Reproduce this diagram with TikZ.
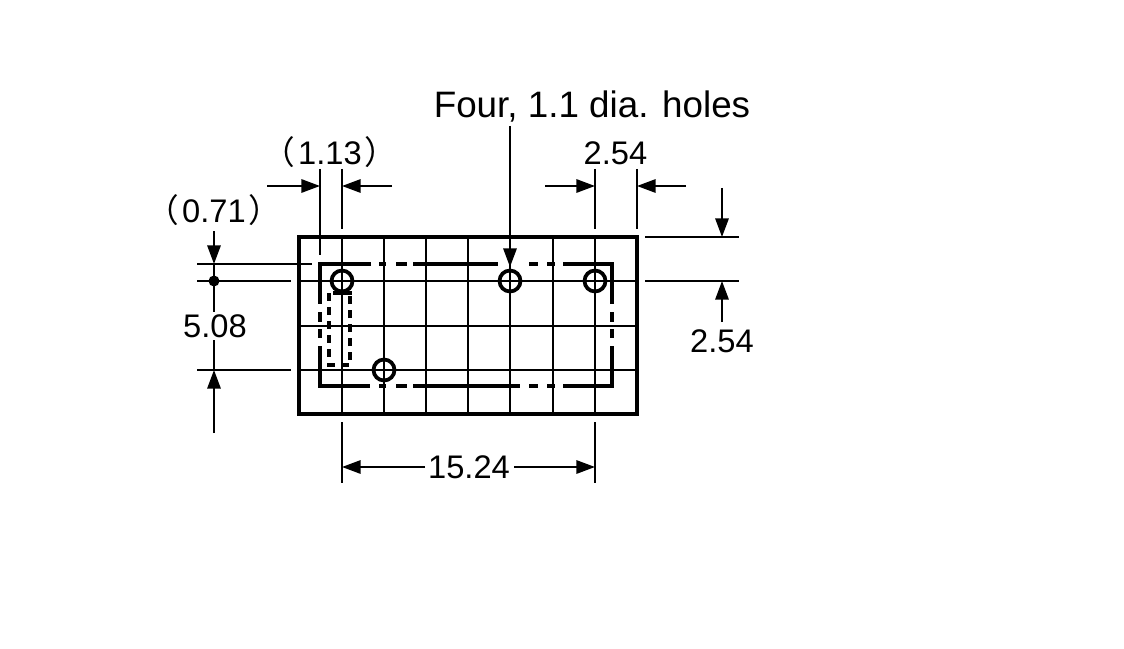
\documentclass[tikz,border=0pt]{standalone}
\usepackage{fontspec}
\setmainfont{Liberation Sans}
\newfontfamily\cjkparen{Noto Sans CJK JP}
\usetikzlibrary{arrows.meta}
\tikzset{
  thinline/.style={line width=1.6pt},
  outline/.style={line width=3.2pt},
  relayline/.style={line width=2.4pt},
  pinhole/.style={line width=2.8pt},
  dimarrow/.style={thinline,-{Triangle[length=14pt,width=10pt]}},
  dimtext/.style={anchor=base,inner sep=0pt,font=\fontsize{24.5}{25}\selectfont},
}
\newcommand{\lparen}{{\cjkparen （}\hspace{2pt}}
\newcommand{\rparen}{\hspace{2pt}{\cjkparen ）}}
\begin{document}
\begin{tikzpicture}[x=0.75pt,y=-0.75pt]
  \useasboundingbox[fill=white] (0,0) rectangle (1124,649);
  % grid
  \foreach \gx in {342,384,426,468,510,553,595}
    \draw[thinline] (\gx,237) -- (\gx,414);
  \foreach \gy in {281,326,370}
    \draw[thinline] (299,\gy) -- (637,\gy);
  \draw[outline] (299,237) rectangle (637,414);
  % relay outline
  \draw[relayline] (371,264) -- (320,264) -- (320,304);
  \draw[relayline] (320,346) -- (320,386) -- (370,386);
  \draw[relayline] (413,264) -- (498,264);
  \draw[relayline] (413,386) -- (520,386);
  \draw[relayline] (563,264) -- (612,264) -- (612,304);
  \draw[relayline] (612,346) -- (612,386) -- (563,386);
  \foreach \dx/\dy in {379/386,396/407,529/538,547/555} {
    \draw[relayline] (\dx,264) -- (\dy,264);
    \draw[relayline] (\dx,386) -- (\dy,386);
  }
  \foreach \dx/\dy in {312/322,329/338} {
    \draw[relayline] (320,\dx) -- (320,\dy);
    \draw[relayline] (612,\dx) -- (612,\dy);
  }
  % coil
  \draw[relayline,dash pattern=on 6pt off 4.5pt] (329,293) -- (329,365) -- (350,365) -- (350,293);
  \draw[relayline] (333,293) -- (352,293);
  % holes
  \foreach \hx/\hy in {342/281,510/281,595/281,384/370}
    \draw[pinhole] (\hx,\hy) circle (10.5);
  % extension lines
  \draw[thinline] (320,169) -- (320,255);
  \draw[thinline] (342,169) -- (342,229);
  \draw[thinline] (595,169) -- (595,229);
  \draw[thinline] (637,169) -- (637,229);
  \draw[thinline] (197,264) -- (312,264);
  \draw[thinline] (197,281) -- (291,281);
  \draw[thinline] (197,370) -- (291,370);
  \draw[thinline] (645,237) -- (739,237);
  \draw[thinline] (645,281) -- (739,281);
  \draw[thinline] (342,422) -- (342,483);
  \draw[thinline] (595,422) -- (595,483);
  % dimensions
  \draw[dimarrow] (267,186) -- (320,186);
  \draw[dimarrow] (392,186) -- (342,186);
  \draw[dimarrow] (545,186) -- (595,186);
  \draw[dimarrow] (686,186) -- (637,186);
  \draw[dimarrow] (214,231) -- (214,264);
  \draw[thinline] (214,264) -- (214,312);
  \draw[thinline] (214,340) -- (214,370);
  \draw[dimarrow] (214,433) -- (214,370);
  \fill (214,281) circle (5.5);
  \draw[dimarrow] (722,188) -- (722,237);
  \draw[dimarrow] (722,322) -- (722,281);
  \draw[dimarrow] (425,467) -- (342,467);
  \draw[dimarrow] (514,467) -- (595,467);
  \draw[dimarrow] (510,126) -- (510,267);
  % labels
  \node[anchor=base,inner sep=0pt,font=\fontsize{27.6}{28}\selectfont] (holes) at (592,118) {Four, 1.1 dia. holes};
  \node[dimtext] (gapa) at (330,165) {\lparen 1.13\rparen};
  \node[dimtext] (gapb) at (214,223) {\lparen 0.71\rparen};
  \node[dimtext] (pitcha) at (615.5,165) {2.54};
  \node[dimtext] (pitchb) at (722,352) {2.54};
  \node[dimtext] (rowgap) at (215,337) {5.08};
  \node[dimtext] (span) at (469,478) {15.24};
\end{tikzpicture}
\end{document}
